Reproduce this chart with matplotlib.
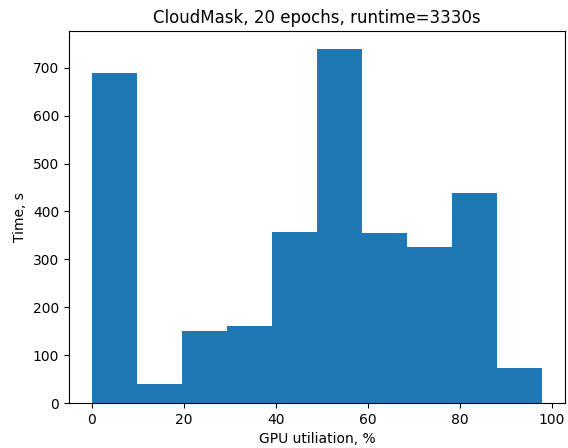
import numpy as np
import matplotlib
matplotlib.use("Agg")
import matplotlib.pyplot as plt

# 直方图各 bin 的边界与高度
bin_edges = np.linspace(0, 98, 11)
bin_heights = [690, 40, 150, 161, 357, 740, 355, 326, 439, 73]

title = "CloudMask, 20 epochs, runtime=3330s"
x_label = "GPU utiliation, %"
y_label = "Time, s"

W, H = 568, 448
fig = plt.figure(figsize=(W / 100, H / 100), dpi=100)
ax = fig.add_axes([69 / W, 45 / H, (565 - 69) / W, (403 - 31) / H])

centers = (bin_edges[:-1] + bin_edges[1:]) / 2
ax.hist(centers, bins=bin_edges, weights=bin_heights, color="#1f77b4")

ax.set_title(title)
ax.set_xlabel(x_label)
ax.set_ylabel(y_label)

fig.savefig("out.png", dpi=100)
